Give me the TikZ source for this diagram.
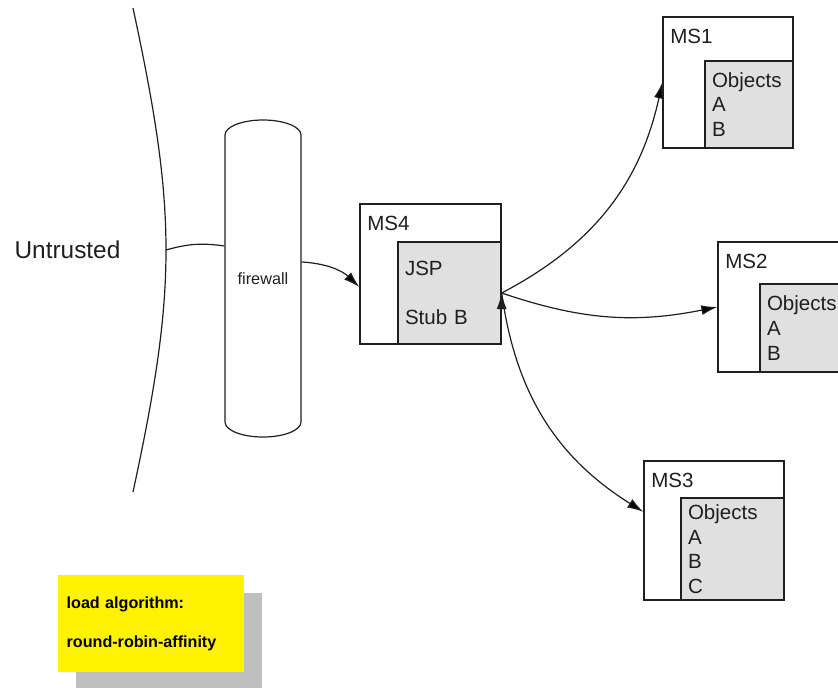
\documentclass[tikz,border=0pt]{standalone}
\usepackage{fontspec}
\setmainfont{Liberation Sans}
\usepackage{tikz}
\usetikzlibrary{arrows.meta,positioning,shadows}
\definecolor{lightgrey}{rgb}{0.88,0.88,0.88}
\definecolor{notegrey}{rgb}{0.75,0.75,0.75}
\definecolor{inkgrey}{rgb}{0.12,0.12,0.12}
\tikzset{
ms_box/.style={
	% The shape:
	rectangle,
	% The border:
	line width=1pt,
	draw=inkgrey,
	fill=white
},
obj_box/.style={
	rectangle,
	line width=1pt,
	draw=inkgrey,
	% a light grey inside
	fill=lightgrey,
	% Font
	font=\fontsize{15.4}{18.5}\selectfont,
	text=inkgrey,
	align=left,
	inner xsep=5.25pt,
	anchor=south east
},
ms_title/.style={
	anchor=north west,
	inner xsep=5.5pt,
	inner ysep=9pt,
	text=inkgrey,
	font=\fontsize{15.4}{18.5}\selectfont
},
note_box/.style={
	rectangle,
	fill=yellow,
	draw=none,
	% the grey block behind it
	drop shadow={shadow xshift=13.75pt,shadow yshift=-13.75pt,fill=notegrey,draw=none,opacity=1},
	font=\fontsize{12.1}{14.5}\selectfont\bfseries,
	align=left,
	inner xsep=6.5pt
}
}

\begin{document}
\begin{tikzpicture}[x=0.75pt,y=-0.75pt,>={Latex[length=12pt,width=7.5pt]},line width=0.9pt]
	\clip (0,0) rectangle (838,687);
	% untrusted side and its border
	\node[anchor=west,inner sep=0pt,font=\fontsize{18.3}{22}\selectfont,text=inkgrey] (untrusted) at (14,250) {Untrusted};
	\coordinate (sky) at (133,8);
	\coordinate (gate) at (166,250);
	\coordinate (ground) at (133,492);
	\draw[inkgrey] (sky) .. controls (155,110) and (166,180) .. (gate) .. controls (166,320) and (155,390) .. (ground);
	% firewall
	\draw[inkgrey] (225,135) .. controls (225,126.7) and (242,120) .. (263,120) .. controls (284,120) and (301,126.7) .. (301,135)
		-- (301,422) .. controls (301,430.3) and (284,437) .. (263,437) .. controls (242,437) and (225,430.3) .. (225,422) -- cycle;
	\node[minimum width=57pt,minimum height=237.75pt,font=\fontsize{12.2}{14}\selectfont,text=inkgrey] (fw) at (263,278.5) {firewall};
	% servers
	\node[ms_box,minimum width=105.75pt,minimum height=105pt] (ms4) at (430.5,274) {};
	\node[ms_title] at (ms4.north west) {MS4};
	\node[obj_box,text width=66.75pt,minimum height=76.5pt] (ms4o) at (ms4.south east) {JSP\\[18.25pt]Stub B};
	\node[ms_box,minimum width=97.5pt,minimum height=98.25pt] (ms1) at (728,82.5) {};
	\node[ms_title] at (ms1.north west) {MS1};
	\node[obj_box,text width=55.5pt,minimum height=65.25pt] (ms1o) at (ms1.south east) {Objects\\A\\B};
	\node[ms_box,minimum width=97.5pt,minimum height=97.5pt] (ms2) at (783,307) {};
	\node[ms_title] at (ms2.north west) {MS2};
	\node[obj_box,text width=55.5pt,minimum height=66pt] (ms2o) at (ms2.south east) {Objects\\A\\B};
	\node[ms_box,minimum width=105pt,minimum height=104.25pt] (ms3) at (714,530.5) {};
	\node[ms_title] at (ms3.north west) {MS3};
	\node[obj_box,text width=66.75pt,minimum height=76.5pt] (ms3o) at (ms3.south east) {Objects\\A\\B\\C};
	% note
	\node[note_box,text width=126.5pt,minimum height=72.75pt] (algo) at (151,623.5) {load algorithm:\\[14.75pt]round-robin-affinity};
	% connections
	\draw[inkgrey] (gate) to[bend left=12] ([yshift=24.4pt]fw.west);
	\path[->,draw=inkgrey] ([yshift=12.4pt]fw.east) edge[bend left=20] ([yshift=-9.75pt]ms4.west)
		(ms4o.east) edge[bend right=25] (ms1.west)
		(ms4o.east) edge[bend right=15] (ms2.west)
		(ms4o.east) edge[bend right=25] ([yshift=14pt]ms3.west);
\end{tikzpicture}
\end{document}
